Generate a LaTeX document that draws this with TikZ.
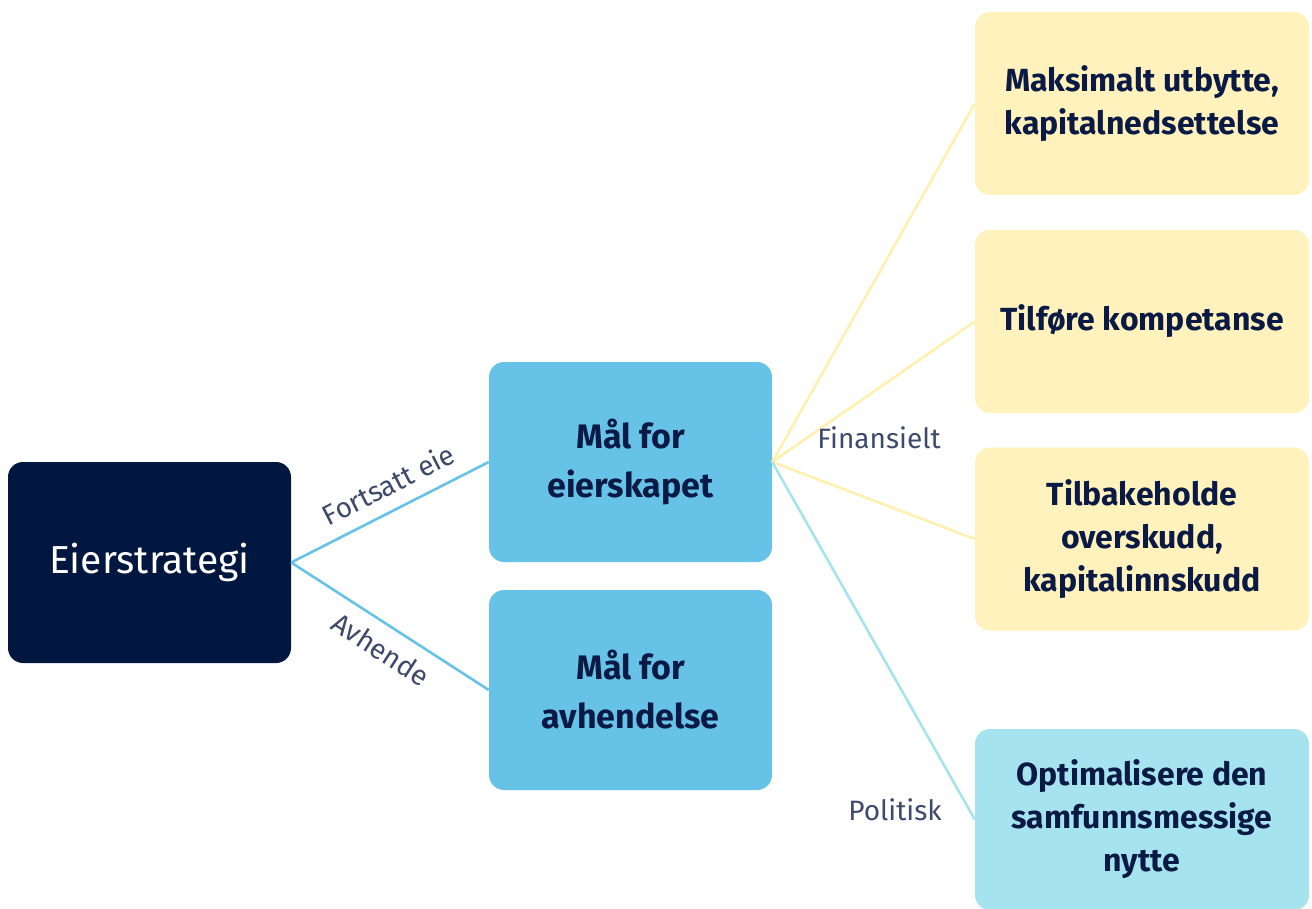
\documentclass[tikz,border=0pt]{standalone}
\usepackage{fontspec}
\setmainfont{Fira Sans}
\definecolor{navy}{HTML}{02173F}
\definecolor{midblue}{HTML}{66C2E6}
\definecolor{paleyellow}{HTML}{FFF2BC}
\definecolor{paleteal}{HTML}{A5E4EE}
\definecolor{linkblue}{HTML}{66C2E6}
\definecolor{linkyellow}{HTML}{FFF0B0}
\definecolor{linkteal}{HTML}{A5E3EE}
\definecolor{labelgray}{HTML}{3E4A6B}
\definecolor{textnavy}{HTML}{0A1A45}
\tikzset{
  box/.style={rounded corners=15pt, inner sep=0pt, align=center},
  rootbox/.style={box, fill=navy, text=white, minimum width=283pt, minimum height=201pt, font=\fontsize{39}{46}\selectfont},
  goalbox/.style={box, fill=midblue, text=textnavy, minimum width=283pt, minimum height=200pt, font=\bfseries\fontsize{34}{49}\selectfont},
  finbox/.style={box, fill=paleyellow, text=textnavy, minimum width=334pt, minimum height=183pt, font=\bfseries\fontsize{32}{43}\selectfont},
  polbox/.style={box, fill=paleteal, text=textnavy, minimum width=334pt, minimum height=181pt, font=\bfseries\fontsize{32}{43}\selectfont},
  lbl/.style={text=labelgray, font=\fontsize{28}{32}\selectfont},
  link/.style={line width=2.6pt}
}
\begin{document}
\begin{tikzpicture}[x=1pt, y=-1pt]
\useasboundingbox (0,0) rectangle (1312,909);
\node[rootbox] (root) at (149.5,562.5) {Eierstrategi};
\node[goalbox] (eier) at (630.5,462) {Mål for\\eierskapet};
\node[goalbox] (avh) at (630.5,690) {Mål for\\avhendelse};
\node[finbox] (maks) at (1142,103.5) {Maksimalt utbytte,\\kapitalnedsettelse};
\node[finbox] (tilf) at (1142,321.5) {Tilføre kompetanse};
\node[finbox] (tilb) at (1142,539) {Tilbakeholde\\overskudd,\\kapitalinnskudd};
\node[polbox] (opt) at (1142,819.5) {Optimalisere den\\samfunnsmessige\\nytte};
\draw[link, linkblue] (root.east) -- node[lbl, sloped, above=10pt, pos=0.55] {Fortsatt eie} (eier.west);
\draw[link, linkblue] (root.east) -- node[lbl, sloped, below=9pt, pos=0.52] {Avhende} (avh.west);
\draw[link, linkyellow] (eier.east) -- (maks.west);
\draw[link, linkyellow] (eier.east) -- (tilf.west);
\draw[link, linkyellow] (eier.east) -- (tilb.west);
\draw[link, linkteal] (eier.east) -- (opt.west);
\node[lbl] (fin) at (879,438) {Finansielt};
\node[lbl] (pol) at (895,810) {Politisk};
\end{tikzpicture}
\end{document}
